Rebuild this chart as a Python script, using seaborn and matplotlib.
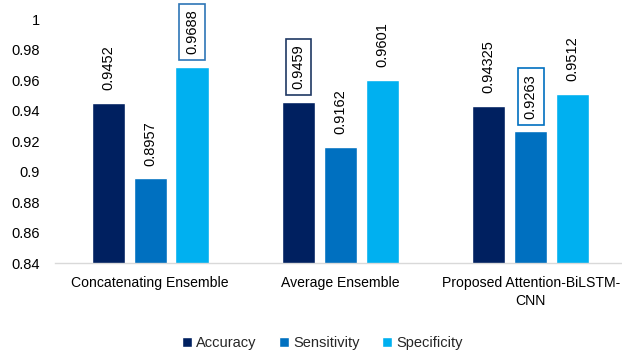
import matplotlib
matplotlib.use("Agg")
import matplotlib.pyplot as plt
import seaborn as sns
import pandas as pd

# Model comparison values
models = ["Concatenating Ensemble", "Average Ensemble", "Proposed Attention-BiLSTM-\nCNN"]
metrics = ["Accuracy", "Sensitivity", "Specificity"]
accuracy = [0.9452, 0.9459, 0.94325]
sensitivity = [0.8957, 0.9162, 0.9263]
specificity = [0.9688, 0.9601, 0.9512]
value_labels = {
    "Accuracy": ["0.9452", "0.9459", "0.94325"],
    "Sensitivity": ["0.8957", "0.9162", "0.9263"],
    "Specificity": ["0.9688", "0.9601", "0.9512"],
}
# labels drawn inside an outlined box: (metric, model index) -> edge colour
boxed = {("Specificity", 0): "#2E75B6", ("Accuracy", 1): "#1F3864", ("Sensitivity", 2): "#0070C0"}

colors = ["#002060", "#0070C0", "#00B0F0"]
yticks = [0.84, 0.86, 0.88, 0.9, 0.92, 0.94, 0.96, 0.98, 1.0]
ytick_labels = ["0.84", "0.86", "0.88", "0.9", "0.92", "0.94", "0.96", "0.98", "1"]

df = pd.DataFrame({
    "Model": models * 3,
    "Metric": [m for m in metrics for _ in models],
    "Value": accuracy + sensitivity + specificity,
})

sns.set_theme(style="white")
plt.rcParams["font.family"] = ["Liberation Sans", "DejaVu Sans"]
FS = 10.5

fig = plt.figure(figsize=(6.22, 3.54), dpi=100)
ax = fig.add_axes([0.0884, 0.257, 0.9116, 0.689])

sns.barplot(data=df, x="Model", y="Value", hue="Metric", hue_order=metrics,
            palette=colors, saturation=1, width=0.66, gap=0.21, ax=ax,
            legend=True, errorbar=None)

ax.set_ylim(0.84, 1.0)
ax.set_xlim(-0.5, 2.48)
ax.set_yticks(yticks)
ax.set_yticklabels(ytick_labels)
ax.set_xlabel("")
ax.set_ylabel("")
ax.tick_params(axis="y", length=0, pad=11, labelsize=FS, colors="#000000")
ax.tick_params(axis="x", length=0, pad=9, labelsize=10.1, colors="#000000")
for lbl in ax.get_xticklabels():
    lbl.set_linespacing(1.45)

for side in ["left", "right", "top"]:
    ax.spines[side].set_visible(False)
ax.spines["bottom"].set_color("#D9D9D9")
ax.spines["bottom"].set_linewidth(1.0)

for metric, container in zip(metrics, ax.containers):
    for i, bar in enumerate(container):
        x = bar.get_x() + bar.get_width() / 2
        h = bar.get_height()
        kw = {}
        if (metric, i) in boxed:
            kw["bbox"] = dict(boxstyle="square,pad=0.4", fc="white",
                              ec=boxed[(metric, i)], lw=1.2)
        ax.annotate(value_labels[metric][i], (x, h), xytext=(0, 9),
                    textcoords="offset points", rotation=90,
                    ha="center", va="bottom", fontsize=FS, color="#000000", **kw)

handles, labels = ax.get_legend_handles_labels()
ax.get_legend().remove()
fig.legend(handles, labels, loc="center", bbox_to_anchor=(0.518, 0.03), ncol=3,
           frameon=False, fontsize=FS, handlelength=0.7, handleheight=0.7,
           handletextpad=0.3, columnspacing=1.5)

fig.savefig("out.png", dpi=100)
